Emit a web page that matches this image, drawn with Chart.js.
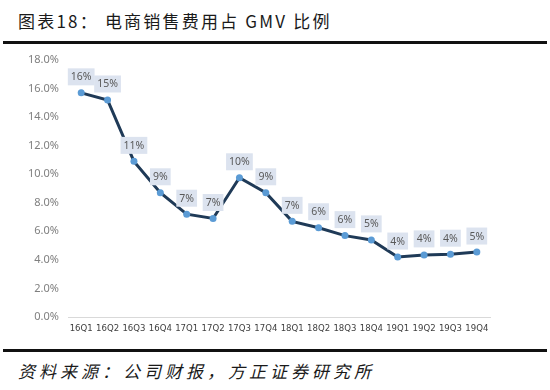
<!DOCTYPE html>
<html>
<head>
<meta charset="utf-8">
<script src="https://cdn.jsdelivr.net/npm/chart.js@4"></script>
<style>
  body { margin: 0; width: 550px; height: 390px; background: #fff; position: relative; overflow: hidden; }
  .title { position: absolute; left: 18px; top: 8px; font: 17px "Noto Sans CJK SC", sans-serif; color: #1a1a1a; letter-spacing: 2.2px; }
  .rule { position: absolute; left: 3px; width: 544px; height: 3px; background: #111; }
  .source { position: absolute; left: 18px; top: 358px; font: italic 17px "Noto Sans CJK SC", sans-serif; color: #1a1a1a; letter-spacing: 4px; }
  #wrap { position: absolute; left: 0; top: 0; width: 550px; height: 345px; }
</style>
</head>
<body>
<div class="title">图表18： 电商销售费用占 GMV 比例</div>
<div class="rule" style="top:41px"></div>
<div id="wrap"><canvas id="ratioChart"></canvas></div>
<div class="rule" style="top:349px"></div>
<div class="source">资料来源：公司财报，方正证券研究所</div>
<script>
// quarters and selling expense / GMV (%)
const quarters = ['16Q1', '16Q2', '16Q3', '16Q4', '17Q1', '17Q2', '17Q3', '17Q4',
                  '18Q1', '18Q2', '18Q3', '18Q4', '19Q1', '19Q2', '19Q3', '19Q4'];
const salesRatio = [15.7, 15.2, 10.9, 8.7, 7.2, 6.9, 9.75, 8.7,
                    6.7, 6.25, 5.7, 5.4, 4.2, 4.35, 4.4, 4.55];
const yMin = 0, yMax = 18, yStep = 2;

// little boxes with rounded % above each point
const valueLabels = {
    id: 'valueLabels',
    afterDatasetsDraw(chart) {
        const ctx = chart.ctx;
        const meta = chart.getDatasetMeta(0);
        ctx.save();
        ctx.font = '10.5px "Noto Sans", sans-serif';
        ctx.textAlign = 'center';
        ctx.textBaseline = 'middle';
        meta.data.forEach((pt, i) => {
            const txt = Math.round(salesRatio[i]) + '%';
            const w = ctx.measureText(txt).width + 6;
            const h = 17;
            const cx = pt.x, cy = pt.y - 16;
            ctx.fillStyle = '#dce3ef';
            ctx.fillRect(cx - w / 2, cy - h / 2, w, h);
            ctx.fillStyle = '#595959';
            ctx.fillText(txt, cx, cy + 0.5);
        });
        ctx.restore();
    }
};

new Chart(document.getElementById('ratioChart'), {
    type: 'line',
    data: {
        labels: quarters,
        datasets: [{
            data: salesRatio,
            borderColor: '#1f3a57',
            borderWidth: 3,
            pointBackgroundColor: '#5b9bd5',
            pointBorderWidth: 0,
            pointRadius: 3.5,
            tension: 0
        }]
    },
    options: {
        responsive: true,
        maintainAspectRatio: false,
        animation: false,
        layout: { padding: { left: 0, right: 60, top: 60, bottom: 0 } },
        plugins: { legend: { display: false }, tooltip: { enabled: false } },
        scales: {
            x: {
                offset: true,
                grid: { display: false, drawTicks: false },
                border: { color: '#d9d9d9', width: 1 },
                ticks: {
                    autoSkip: false, maxRotation: 0, padding: 6,
                    color: '#404040',
                    font: { family: '"DejaVu Sans Condensed", "Liberation Sans Narrow", sans-serif', size: 9.5 }
                },
                afterFit(axis) { axis.height = 28; }
            },
            y: {
                min: yMin, max: yMax,
                grid: { display: false, drawTicks: false },
                border: { display: false },
                ticks: {
                    stepSize: yStep, padding: 9,
                    color: '#7f7f7f',
                    font: { family: '"Noto Sans", sans-serif', size: 11 },
                    callback: v => v.toFixed(1) + '%'
                },
                afterFit(axis) { axis.width = 68; }
            }
        }
    },
    plugins: [valueLabels]
});
</script>
</body>
</html>
